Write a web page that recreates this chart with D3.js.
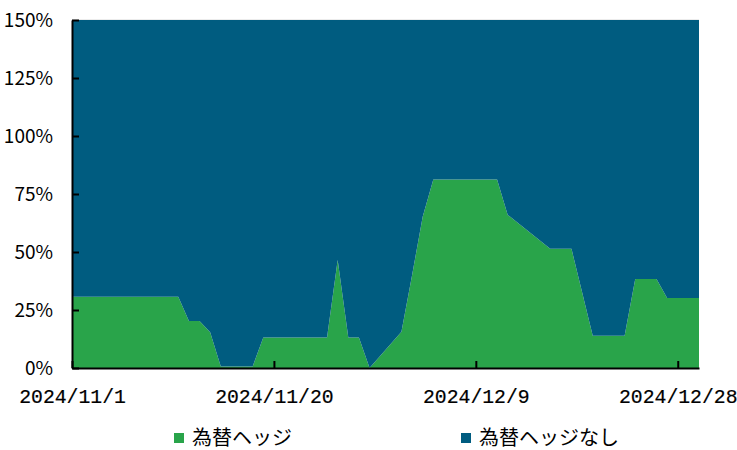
<!DOCTYPE html>
<html lang="ja">
<head>
<meta charset="utf-8">
<title>為替ヘッジ</title>
<script src="https://cdn.jsdelivr.net/npm/d3@7"></script>
<style>
  body { margin: 0; background: #fff; }
  text { font-family: "Noto Sans CJK JP", sans-serif; fill: #000; }
</style>
</head>
<body>
<script>
// business days
var dates = ['2024-11-01','2024-11-04','2024-11-05','2024-11-06','2024-11-07','2024-11-08',
  '2024-11-11','2024-11-12','2024-11-13','2024-11-14','2024-11-15',
  '2024-11-18','2024-11-19','2024-11-20','2024-11-21','2024-11-22',
  '2024-11-25','2024-11-26','2024-11-27','2024-11-28','2024-11-29',
  '2024-12-02','2024-12-03','2024-12-04','2024-12-05','2024-12-06',
  '2024-12-09','2024-12-10','2024-12-11','2024-12-12','2024-12-13',
  '2024-12-16','2024-12-17','2024-12-18','2024-12-19','2024-12-20',
  '2024-12-23','2024-12-24','2024-12-25','2024-12-26','2024-12-27',
  '2024-12-30'];
var hedged = [30.7,30.7,30.7,30.7,30.7,30.7,
  30.7,20.3,20.3,15.4,0.7,
  0.7,13.1,13.1,13.1,13.1,
  13.1,46.6,13.2,13.2,0,
  15.6,40,65.2,81.3,81.3,
  81.3,81.3,81.3,66,62.4,
  51.4,51.4,51.4,32.6,13.9,
  13.9,38.4,38.4,38.4,30.2,
  30.2];
var unhedged = [119.3,119.3,119.3,119.3,119.3,119.3,
  119.3,129.7,129.7,134.6,149.3,
  149.3,136.9,136.9,136.9,136.9,
  136.9,103.4,136.8,136.8,150,
  134.4,110,84.8,68.7,68.7,
  68.7,68.7,68.7,84,87.6,
  98.6,98.6,98.6,117.4,136.1,
  136.1,111.6,111.6,111.6,119.8,
  119.8];
var seriesNames = ['為替ヘッジ', '為替ヘッジなし'];
var colors = ['#29a44a', '#005c80'];
var xTicks = ['2024-11-01','2024-11-20','2024-12-09','2024-12-28'];
var yTicks = [0, 25, 50, 75, 100, 125, 150];

var w = 737, h = 450;
var margin = {left: 72, right: 38, top: 20, bottom: 82};

var parse = d3.timeParse('%Y-%m-%d');
var rows = dates.map(function(d, i) {
  return {date: parse(d), a: hedged[i], b: unhedged[i]};
});

var svg = d3.select('body').append('svg').attr('width', w).attr('height', h);

var x = d3.scaleTime()
  .domain([parse('2024-11-01'), parse('2024-12-30')])
  .range([margin.left, w - margin.right]);
var y = d3.scaleLinear()
  .domain([0, 150])
  .range([h - margin.bottom, margin.top]);

var stack = d3.stack().keys(['a', 'b']);
var layers = stack(rows);

var area = d3.area()
  .x(function(d) { return x(d.data.date); })
  .y0(function(d) { return y(d[0]); })
  .y1(function(d) { return y(d[1]); });

// top border line
svg.append('line')
  .attr('x1', x.range()[0]).attr('x2', x.range()[1])
  .attr('y1', y(150)).attr('y2', y(150))
  .attr('stroke', '#d9d9d9').attr('stroke-width', 1);

svg.selectAll('path.layer')
  .data(layers)
  .enter().append('path')
  .attr('class', 'layer')
  .attr('fill', function(d, i) { return colors[i]; })
  .attr('d', area);

var fmt = d3.timeFormat('%Y/%-m/%-d');

var xAxis = d3.axisBottom(x)
  .tickValues(xTicks.map(parse))
  .tickFormat(fmt)
  .tickSizeInner(-7).tickSizeOuter(0).tickPadding(21);
var gx = svg.append('g')
  .attr('transform', 'translate(0,' + y(0) + ')')
  .call(xAxis);
gx.selectAll('text')
  .attr('font-size', 19.75)
  .attr('stroke', '#000').attr('stroke-width', 0.2)
  .style('font-family', '"Liberation Mono", monospace');

var yAxis = d3.axisLeft(y)
  .tickValues(yTicks)
  .tickFormat(function(d) { return d + '%'; })
  .tickSizeInner(-7).tickSizeOuter(0).tickPadding(19);
var gy = svg.append('g')
  .attr('transform', 'translate(' + margin.left + ',0)')
  .call(yAxis);
gy.selectAll('text').attr('font-size', 19).style('font-family', '"Noto Sans CJK JP", sans-serif');

svg.selectAll('.domain').attr('stroke', '#000').attr('stroke-width', 2);
svg.selectAll('.tick line').attr('stroke', '#000').attr('stroke-width', 2);

// legend
var legX = [174, 461];
var leg = svg.selectAll('g.leg')
  .data(seriesNames)
  .enter().append('g')
  .attr('class', 'leg')
  .attr('transform', function(d, i) { return 'translate(' + legX[i] + ',433)'; });
leg.append('rect')
  .attr('width', 10).attr('height', 10)
  .attr('fill', function(d, i) { return colors[i]; });
leg.append('text')
  .attr('x', 18).attr('y', 5)
  .attr('dy', '0.36em')
  .attr('font-size', 20)
  .text(function(d) { return d; });
</script>
</body>
</html>
